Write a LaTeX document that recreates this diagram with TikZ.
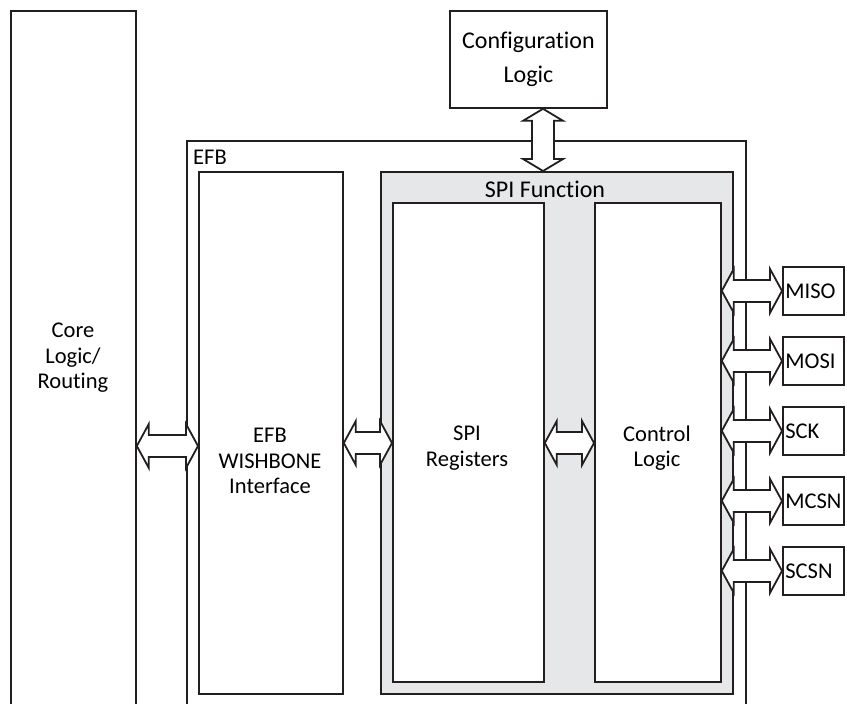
\documentclass[tikz,border=0pt]{standalone}
\usepackage{fontspec}
\setmainfont{Carlito}[Ligatures=NoCommon]
\usepackage{tikz}
\usetikzlibrary{calc}
\definecolor{linegray}{RGB}{35,31,32}
\definecolor{spigray}{RGB}{230,231,232}

\begin{document}
\begin{tikzpicture}[
        x=1pt, y=-1pt,
        every node/.style={align=center, inner sep=0pt, font=\fontsize{22.5}{25.5}\selectfont},
        block/.style={rectangle, draw=linegray, line width=1.8pt, fill=white, anchor=north west},
        pinbox/.style={block, minimum width=61pt, minimum height=48pt, text width=56pt, inner xsep=2.5pt, align=left},
        hbus/.style={draw=linegray, line width=1.8pt, fill=white,
            to path={let \p1=(\tikztostart), \p2=(\tikztotarget) in
                (\x1,\y1) -- (\x1+12pt,\y1+22pt) -- (\x1+12pt,\y1+11pt) -- (\x2-12pt,\y1+11pt)
                -- (\x2-12pt,\y1+22pt) -- (\x2,\y1) -- (\x2-12pt,\y1-22pt) -- (\x2-12pt,\y1-11pt)
                -- (\x1+12pt,\y1-11pt) -- (\x1+12pt,\y1-22pt) -- cycle}},
        vbus/.style={draw=linegray, line width=1.8pt, fill=white,
            to path={let \p1=(\tikztostart), \p2=(\tikztotarget) in
                (\x1,\y1) -- (\x1+20pt,\y1-12pt) -- (\x1+11pt,\y1-12pt) -- (\x1+11pt,\y2+12pt)
                -- (\x1+20pt,\y2+12pt) -- (\x1,\y2) -- (\x1-20pt,\y2+12pt) -- (\x1-11pt,\y2+12pt)
                -- (\x1-11pt,\y1-12pt) -- (\x1-20pt,\y1-12pt) -- cycle}}
    ]
    \useasboundingbox (0,0) rectangle (847,704);

    % Blocks
    \node[block, minimum width=125pt, minimum height=720pt] (core) at (10,10) {};
    \node (coretxt) at (73,358) {Core\\Logic/\\Routing};
    \node[block, minimum width=157pt, minimum height=97pt, font=\fontsize{24}{34}\selectfont] (cfg) at (449,10) {Configuration\\Logic};
    \node[block, minimum width=559pt, minimum height=600pt] (efb) at (186,140) {};
    \node[anchor=base west] (efbtxt) at (193,164) {EFB};
    \node[block, minimum width=144pt, minimum height=522pt] (wb) at (198,171) {};
    \node (wbtxt) at (270,461) {EFB\\WISHBONE\\Interface};
    \node[block, fill=spigray, minimum width=352pt, minimum height=522pt] (spif) at (380,171) {};
    \node[anchor=base, font=\fontsize{24}{28}\selectfont] (spiftxt) at (545,197) {SPI Function};
    \node[block, minimum width=151pt, minimum height=479pt] (regs) at (392,202) {};
    \node (regstxt) at (467,448) {SPI\\Registers};
    \node[block, minimum width=126pt, minimum height=479pt] (ctl) at (594,202) {};
    \node (ctltxt) at (657,448) {Control\\Logic};

    % Buses
    \coordinate (busA) at (0,446);
    \coordinate (busB) at (0,443);
    \coordinate (busC) at (543,0);
    \draw[hbus] (core.east |- busA) to (wb.west |- busA);
    \draw[hbus] (wb.east |- busB) to (regs.west |- busB);
    \draw[hbus] (regs.east |- busB) to (ctl.west |- busB);
    \draw[vbus] (busC |- cfg.south) to (busC |- spif.north);

    % Pins
    \foreach \nm/\txt [count=\i from 0] in {miso/MISO, mosi/MOSI, sck/SCK, mcsn/MCSN, scsn/SCSN} {
        \node[pinbox] (\nm) at (782,266+70*\i) {\txt};
        \draw[hbus] (ctl.east |- \nm.west) to (\nm.west);
    }

\end{tikzpicture}
\end{document}
